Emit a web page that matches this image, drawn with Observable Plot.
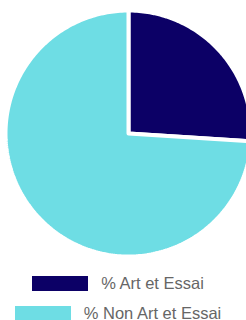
<!DOCTYPE html>
<html>
<head>
<meta charset="utf-8">
<script src="https://cdn.jsdelivr.net/npm/d3@7"></script>
<script src="https://cdn.jsdelivr.net/npm/@observablehq/plot@0.6"></script>
<style>
  html, body { margin: 0; padding: 0; background: #fff; overflow: hidden; }
  #chart svg { display: block; }
  .legend { width: 236px; font-family: "Liberation Sans", Arial, sans-serif; font-size: 16.5px; color: #666; }
  .row { height: 30px; display: flex; align-items: center; justify-content: center; }
  .sw { width: 56px; height: 15px; margin-right: 13px; flex: none; }
</style>
</head>
<body>
<div id="chart"></div>
<script>
const categories = ["% Art et Essai", "% Non Art et Essai"];
const values = [26, 74];
const colors = ["#0c0066", "#6edde4"];

const arcs = d3.pie().sort(null).startAngle(0).endAngle(2 * Math.PI)(values);
const pts = [];
arcs.forEach((a, i) => {
  const key = categories[i];
  pts.push({key, x: 0, y: 0});
  const n = Math.max(2, Math.ceil((a.endAngle - a.startAngle) / (Math.PI / 180)));
  for (let k = 0; k <= n; k++) {
    const t = a.startAngle + (a.endAngle - a.startAngle) * k / n;
    pts.push({key, x: Math.sin(t), y: Math.cos(t)});
  }
  pts.push({key, x: 0, y: 0});
});

const chart = Plot.plot({
  width: 246,
  height: 268,
  margin: 0,
  style: {overflow: "hidden"},
  x: {domain: [-1, 1], range: [5, 251], axis: null},
  y: {domain: [-1, 1], range: [256, 10], axis: null},
  color: {domain: categories, range: colors},
  marks: [
    Plot.line(pts, {x: "x", y: "y", z: "key", fill: "key", stroke: "white", strokeWidth: 4, strokeLinejoin: "miter", curve: "linear"})
  ]
});
document.getElementById("chart").appendChild(chart);

const legend = document.createElement("div");
legend.className = "legend";
categories.forEach((c, i) => {
  const row = document.createElement("div");
  row.className = "row";
  const sw = document.createElement("span");
  sw.className = "sw";
  sw.style.background = colors[i];
  const tx = document.createElement("span");
  tx.textContent = c;
  row.appendChild(sw);
  row.appendChild(tx);
  legend.appendChild(row);
});
document.getElementById("chart").appendChild(legend);
</script>
</body>
</html>
